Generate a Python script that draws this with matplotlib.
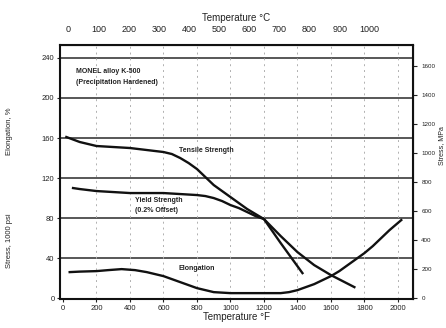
import numpy as np
import matplotlib
matplotlib.use("Agg")
import matplotlib.pyplot as plt

# values (temperature in F, stress in ksi, elongation in %)
tens_F = [20, 100, 200, 300, 400, 500, 600, 650, 700, 750, 800, 850, 900, 950, 1000,
          1050, 1100, 1150, 1200, 1300, 1400, 1500, 1600, 1740]
tens_ksi = [161, 156, 152, 151, 150, 148, 146, 144, 140, 135, 129, 121, 113, 107, 101,
            95, 89, 84, 79, 62, 46, 33, 23, 11]

yield_F = [60, 100, 200, 300, 400, 500, 600, 700, 800, 850, 900, 950, 1000, 1050,
           1100, 1150, 1200, 1300, 1430]
yield_ksi = [110, 109, 107, 106, 105, 105, 105, 104, 103, 102, 100, 97, 93, 90,
             86, 82, 79, 55, 25]

elong_F = [40, 100, 200, 270, 350, 430, 500, 550, 600, 650, 700, 750, 800, 850, 900,
           950, 1000, 1100, 1200, 1300, 1350, 1400, 1450, 1500, 1550, 1600, 1650,
           1700, 1750, 1800, 1850, 1900, 1950, 2020]
elong_pct = [26, 26.5, 27, 28, 29, 28, 26, 24, 22, 19, 16, 13, 10, 8, 6,
             5.5, 5, 5, 5, 5, 6, 8, 11, 14, 18, 22, 27,
             33, 39, 45, 52, 60, 68, 78]

x_ticks = list(range(0, 2001, 200))
y_ticks = list(range(0, 241, 40))
c_ticks = list(range(0, 1001, 100))
mpa_ticks = list(range(0, 1601, 200))

plt.rcParams['font.family'] = ['Liberation Sans', 'DejaVu Sans']

fig = plt.figure(figsize=(4.46, 3.28), dpi=100)
ax = fig.add_axes([0.1345, 0.088, 0.7915, 0.775])

ax.set_xlim(-18, 2090)
ax.set_ylim(-1, 253)

# grid
for yv in y_ticks[1:]:
    ax.axhline(yv, color='#2a2a2a', lw=1.1, zorder=1)
for xv in x_ticks[1:]:
    ax.axvline(xv, color='#b0b0b0', lw=0.7, ls=(0, (2, 4)), zorder=1)

ax.plot(tens_F, tens_ksi, color='#111111', lw=1.7, zorder=3)
ax.plot(yield_F, yield_ksi, color='#111111', lw=1.7, zorder=3)
ax.plot(elong_F, elong_pct, color='#111111', lw=1.7, zorder=3)

fs = 5.5
txt = dict(fontsize=5, fontweight='bold', color='#222222', zorder=4)
ax.text(80, 225, 'MONEL alloy K-500', **txt)
ax.text(80, 214, '(Precipitation Hardened)', **txt)
ax.text(690, 146, 'Tensile Strength', **txt)
ax.text(430, 96, 'Yield Strength', **txt)
ax.text(430, 86, '(0.2% Offset)', **txt)
ax.text(690, 28, 'Elongation', **txt)

ax.set_xticks(x_ticks)
ax.set_yticks(y_ticks)
ax.tick_params(labelsize=fs, length=2, width=0.8, pad=2, colors='#222222')
for s in ax.spines.values():
    s.set_linewidth(1.5)
    s.set_color('#111111')

ax.set_xlabel('Temperature °F', fontsize=7, labelpad=0, color='#222222')

# secondary axes
secx = ax.secondary_xaxis('top', functions=(lambda f: (f - 32) / 1.8, lambda c: c * 1.8 + 32))
secx.set_xticks(c_ticks)
secx.tick_params(labelsize=6.5, length=0, pad=8, colors='#222222')
secx.set_xlabel('Temperature °C', fontsize=7, labelpad=3, color='#222222')

secy = ax.secondary_yaxis('right', functions=(lambda k: k * 6.895, lambda m: m / 6.895))
secy.set_yticks(mpa_ticks)
secy.tick_params(labelsize=4.5, length=3, width=0.8, pad=3, colors='#222222')

fig.text(0.022, 0.265, 'Stress, 1000 psi', rotation=90, fontsize=5.5, ha='center', va='center', color='#222222')
fig.text(0.022, 0.60, 'Elongation, %', rotation=90, fontsize=5.5, ha='center', va='center', color='#222222')
fig.text(0.99, 0.555, 'Stress, MPa', rotation=90, fontsize=5, ha='center', va='center', color='#222222')

fig.savefig('out.png', dpi=100)
